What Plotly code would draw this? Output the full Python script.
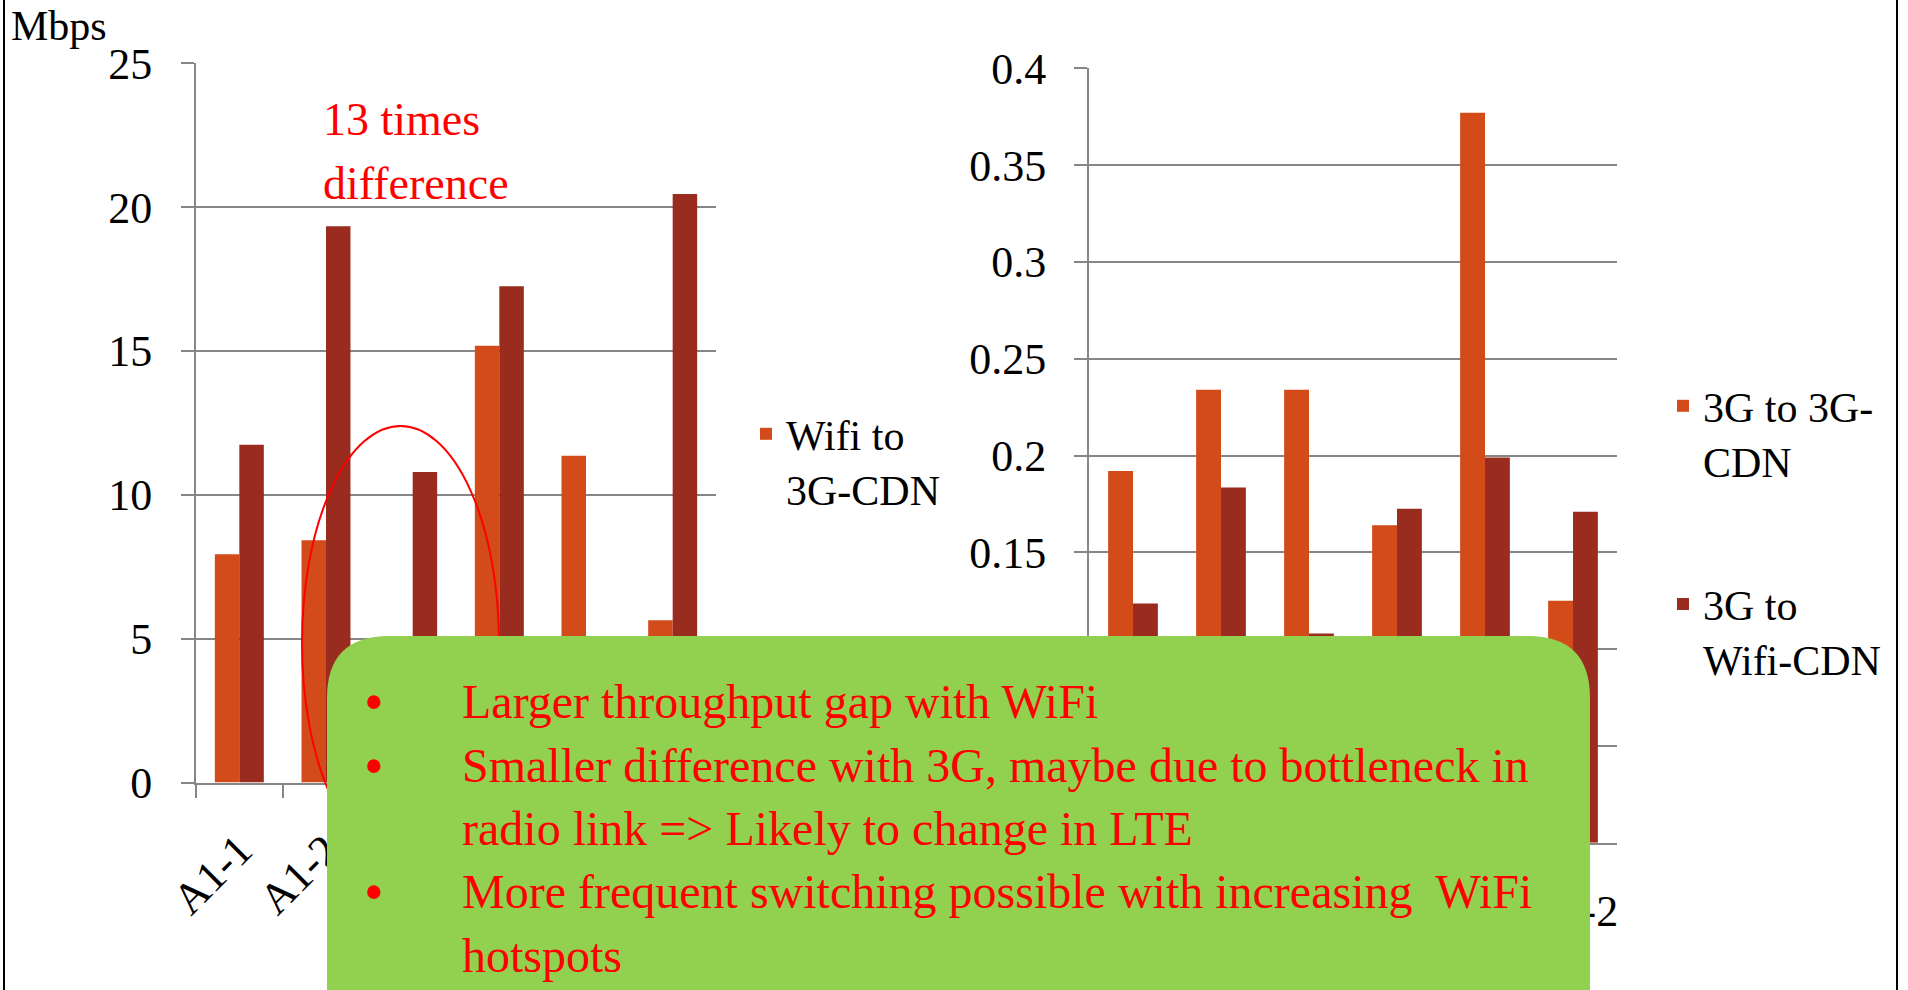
import plotly.graph_objects as go

W, H = 1908, 990

def px(x):
    return x / W

def py(y):
    return 1 - y / H

# ---------------- data ----------------
categories = ["A1-1", "A1-2", "A2-1", "A2-2", "A3-1", "A3-2"]
wifi_to_3g_cdn = [7.93, 8.42, 0.83, 15.18, 11.36, 5.64]
wifi_to_wifi_cdn = [11.74, 19.34, 10.79, 17.25, 3.0, 20.46]
g3_to_3g_cdn = [0.192, 0.234, 0.234, 0.164, 0.377, 0.125]
g3_to_wifi_cdn = [0.1235, 0.1835, 0.108, 0.1725, 0.199, 0.171]

left_ticks = [0, 5, 10, 15, 20, 25]
right_ticks = [0, 0.05, 0.1, 0.15, 0.2, 0.25, 0.3, 0.35, 0.4]

bullet_lines = [
    "Larger throughput gap with WiFi",
    "Smaller difference with 3G, maybe due to bottleneck in",
    "radio link => Likely to change in LTE",
    "More frequent switching possible with increasing  WiFi",
    "hotspots",
]

ORANGE = "#D24B19"
DARK = "#9A2B1F"
GRID = "#868686"
GREEN = "#92D050"
RED = "#FF0000"
FONT = "Liberation Serif"

fig = go.Figure()
fig.add_trace(go.Bar(x=categories, y=wifi_to_3g_cdn, name="Wifi to<br>3G-CDN",
                     marker=dict(color=ORANGE, line=dict(width=0)),
                     xaxis="x", yaxis="y", legend="legend", legendgroup="a"))
fig.add_trace(go.Bar(x=categories, y=wifi_to_wifi_cdn, name="Wifi to<br>Wifi-CDN",
                     marker=dict(color=DARK, line=dict(width=0)),
                     xaxis="x", yaxis="y", legend="legend", legendgroup="b",
                     showlegend=False))
fig.add_trace(go.Bar(x=categories, y=g3_to_3g_cdn, name="3G to 3G-<br>CDN",
                     marker=dict(color=ORANGE, line=dict(width=0)),
                     xaxis="x2", yaxis="y2", legend="legend2", legendgroup="c"))
fig.add_trace(go.Bar(x=categories, y=g3_to_wifi_cdn, name="3G to<br>Wifi-CDN",
                     marker=dict(color=DARK, line=dict(width=0)),
                     xaxis="x2", yaxis="y2", legend="legend2", legendgroup="d"))

axis_common = dict(showline=True, linecolor=GRID, linewidth=2, ticks="outside",
                   ticklen=13, tickcolor=GRID, tickwidth=2, automargin=False,
                   tickfont=dict(family=FONT, size=44, color="black"))

fig.update_layout(
    width=W, height=H,
    margin=dict(l=0, r=0, t=0, b=0, pad=0, autoexpand=False),
    paper_bgcolor="white", plot_bgcolor="white",
    font=dict(family=FONT, size=40, color="black"),
    barmode="group", bargap=0.435, bargroupgap=0,
    xaxis=dict(domain=[px(196), px(716)], anchor="y", type="category",
               tickson="boundaries", tickangle=-45, ticklabelstandoff=22,
               showgrid=False, **axis_common),
    yaxis=dict(domain=[py(782.5), py(63.3)], anchor="x", range=[0, 25],
               tickvals=left_ticks, showgrid=True, gridcolor=GRID, gridwidth=2,
               zeroline=False, ticklabelstandoff=20, **axis_common),
    xaxis2=dict(domain=[px(1089), px(1617)], anchor="y2", type="category",
                tickson="boundaries", tickangle=0, ticklabelstandoff=28,
                showgrid=False, **axis_common),
    yaxis2=dict(domain=[py(842.7), py(68.3)], anchor="x2", range=[0, 0.4],
                tickvals=right_ticks, showgrid=True, gridcolor=GRID, gridwidth=2,
                zeroline=False, ticklabelstandoff=19, **axis_common),
    legend=dict(x=px(746), y=py(400), xanchor="left", yanchor="top",
                font=dict(family=FONT, size=42, color="black"), valign="top",
                tracegroupgap=86, bgcolor="rgba(0,0,0,0)", borderwidth=0),
    legend2=dict(x=px(1663), y=py(372), xanchor="left", yanchor="top",
                 font=dict(family=FONT, size=42, color="black"), valign="top",
                 tracegroupgap=86, bgcolor="rgba(0,0,0,0)", borderwidth=0),
    showlegend=True,
)

# ---------------- shapes ----------------
shapes = []
# slide frame lines
shapes.append(dict(type="line", xref="paper", yref="paper", x0=px(4), x1=px(4), y0=0, y1=1,
                   line=dict(color="black", width=2), layer="above"))
shapes.append(dict(type="line", xref="paper", yref="paper", x0=px(1897), x1=px(1897), y0=0, y1=1,
                   line=dict(color="black", width=2), layer="above"))
# red ellipse highlighting the difference
shapes.append(dict(type="circle", xref="paper", yref="paper",
                   x0=px(302), x1=px(499), y0=py(860), y1=py(426),
                   line=dict(color=RED, width=2), fillcolor="rgba(0,0,0,0)", layer="above"))
# green rounded call-out box
bx0, bx1, by0, by1, r = 327, 1590, 636, 1010, 62
pts = [
    ("M", bx0, by1), ("L", bx0, by0 + r), ("Q", bx0, by0, bx0 + r, by0),
    ("L", bx1 - r, by0), ("Q", bx1, by0, bx1, by0 + r), ("L", bx1, by1),
]
path = ""
for p in pts:
    if p[0] == "Q":
        path += f"Q{px(p[1]):.5f},{py(p[2]):.5f} {px(p[3]):.5f},{py(p[4]):.5f} "
    else:
        path += f"{p[0]}{px(p[1]):.5f},{py(p[2]):.5f} "
path += "Z"
shapes.append(dict(type="path", xref="paper", yref="paper", path=path,
                   fillcolor=GREEN, line=dict(width=0), layer="above"))
fig.update_layout(shapes=shapes)

# ---------------- annotations ----------------
ann = []
ann.append(dict(text="Mbps", x=px(9), y=py(40 - 0.34 * 42), xref="paper", yref="paper",
                xanchor="left", yanchor="middle", showarrow=False,
                font=dict(family=FONT, size=42, color="black")))
for txt, base in [("13 times", 135), ("difference", 199)]:
    ann.append(dict(text=txt, x=px(321), y=py(base - 0.34 * 46), xref="paper", yref="paper",
                    xanchor="left", yanchor="middle", showarrow=False,
                    font=dict(family=FONT, size=46, color=RED)))
baselines = [718, 782, 845, 908, 972]
bullet_rows = [0, 1, 3]
for i, (txt, base) in enumerate(zip(bullet_lines, baselines)):
    ann.append(dict(text=txt, x=px(460), y=py(base - 0.34 * 48), xref="paper", yref="paper",
                    xanchor="left", yanchor="middle", showarrow=False,
                    font=dict(family=FONT, size=48, color=RED)))
    if i in bullet_rows:
        ann.append(dict(text="•", x=px(374), y=py(base - 0.34 * 48), xref="paper", yref="paper",
                        xanchor="center", yanchor="middle", showarrow=False,
                        font=dict(family=FONT, size=56, color=RED)))
fig.update_layout(annotations=ann)

fig.write_html("out.html")
